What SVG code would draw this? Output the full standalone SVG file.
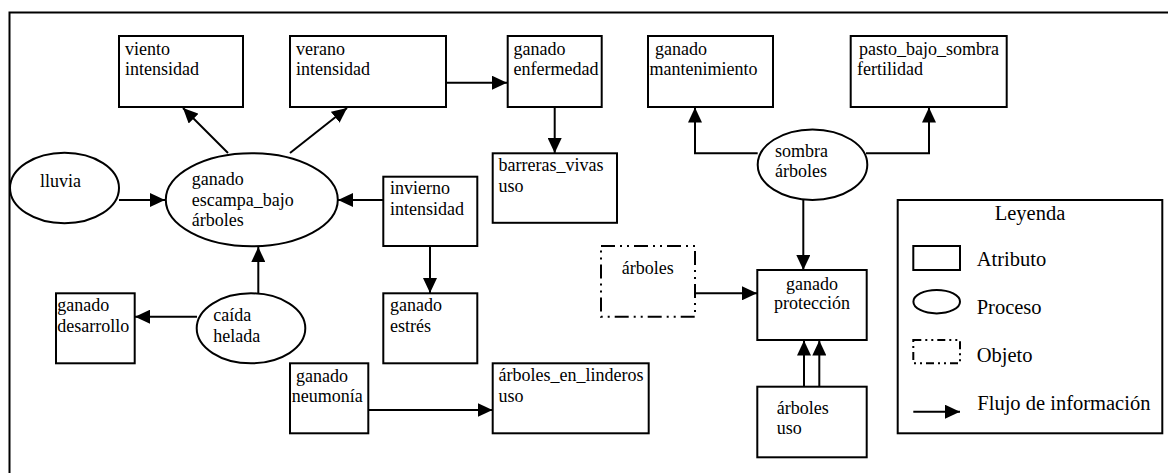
<svg xmlns="http://www.w3.org/2000/svg" width="1168" height="473" viewBox="0 0 1168 473">
<defs>
<marker id="ah" markerWidth="15" markerHeight="14" refX="15" refY="7" orient="auto" markerUnits="userSpaceOnUse">
<path d="M0,0 L15,7 L0,14 z" fill="#000"/>
</marker>
<style>
.b{fill:#fff;stroke:#000;stroke-width:2}
.o{fill:#fff;stroke:#000;stroke-width:2;stroke-dasharray:14 5 2 5 2 5}
.c{fill:none;stroke:#000;stroke-width:2;marker-end:url(#ah)}
text{font-family:"Liberation Serif",serif;font-size:18px;fill:#000}
.lg{font-size:20.5px}
.m{text-anchor:middle}
</style>
</defs>
<rect x="0" y="0" width="1168" height="473" fill="#fff"/>
<rect x="9.5" y="12.5" width="1170" height="470" fill="none" stroke="#000" stroke-width="2"/>

<g id="connectors">
<line class="c" x1="228" y1="153" x2="183" y2="108"/>
<line class="c" x1="290" y1="153" x2="347" y2="108"/>
<line class="c" x1="119" y1="200" x2="165" y2="200"/>
<line class="c" x1="383" y1="200" x2="338" y2="200"/>
<line class="c" x1="258.3" y1="293" x2="258.3" y2="247"/>
<line class="c" x1="197" y1="316.7" x2="135" y2="316.7"/>
<line class="c" x1="446" y1="82.7" x2="507" y2="82.7"/>
<line class="c" x1="554.7" y1="107" x2="554.7" y2="153"/>
<line class="c" x1="430" y1="246" x2="430" y2="293"/>
<line class="c" x1="368.3" y1="410" x2="492.5" y2="410"/>
<polyline class="c" points="757.7,153.3 695,153.3 695,107.5"/>
<polyline class="c" points="866,153.3 929,153.3 929,107.5"/>
<line class="c" x1="803.3" y1="200" x2="803.3" y2="270"/>
<line class="c" x1="695" y1="293.3" x2="757" y2="293.3"/>
<line class="c" x1="804" y1="386.7" x2="804" y2="340.5"/>
<line class="c" x1="819.3" y1="386.7" x2="819.3" y2="340.5"/>
</g>

<g id="viento"><rect class="b" x="119" y="36" width="124" height="71"/><text x="125" y="54.5">viento</text><text x="125" y="75">intensidad</text></g>
<g id="verano"><rect class="b" x="290" y="36" width="156" height="71"/><text x="296" y="54.5">verano</text><text x="296" y="75">intensidad</text></g>
<g id="enfermedad"><rect class="b" x="507.7" y="36" width="94" height="71"/><text x="513.5" y="54.5">ganado</text><text x="513.5" y="75">enfermedad</text></g>
<g id="mantenimiento"><rect class="b" x="648" y="36" width="125" height="71"/><text x="655" y="54.5">ganado</text><text x="649.5" y="75">mantenimiento</text></g>
<g id="pasto"><rect class="b" x="850.7" y="36" width="156" height="71"/><text x="859" y="54.5">pasto_bajo_sombra</text><text x="857" y="75">fertilidad</text></g>
<g id="barreras"><rect class="b" x="492.7" y="153.3" width="124.3" height="69.5"/><text x="498.5" y="170.5">barreras_vivas</text><text x="498.5" y="191.5">uso</text></g>
<g id="invierno"><rect class="b" x="383.3" y="176.7" width="94" height="69.3"/><text x="390" y="193.5">invierno</text><text x="390" y="214.5">intensidad</text></g>
<g id="estres"><rect class="b" x="383.3" y="293.3" width="94" height="70"/><text x="390" y="311">ganado</text><text x="390" y="331.7">estrés</text></g>
<g id="linderos"><rect class="b" x="492.7" y="363.3" width="156" height="70"/><text x="498.5" y="381">árboles_en_linderos</text><text x="498.5" y="401.7">uso</text></g>
<g id="neumonia"><rect class="b" x="290" y="363.3" width="78.3" height="70"/><text x="296" y="381.7">ganado</text><text x="291.7" y="401.7">neumonía</text></g>
<g id="desarrollo"><rect class="b" x="56" y="293.3" width="78.7" height="70"/><text x="57.3" y="311">ganado</text><text x="57.3" y="331.7">desarrollo</text></g>
<g id="caida"><ellipse class="b" cx="251" cy="328.3" rx="54.3" ry="35"/><text x="213.3" y="321">caída</text><text x="213.3" y="341.7">helada</text></g>
<g id="escampa"><ellipse class="b" cx="251.8" cy="199.7" rx="86" ry="46.5"/><text x="191.7" y="185">ganado</text><text x="191.7" y="205.5">escampa_bajo</text><text x="191.7" y="226">árboles</text></g>
<g id="lluvia"><ellipse class="b" cx="64.5" cy="188" rx="54.5" ry="35.3"/><text x="40" y="186.7">lluvia</text></g>
<g id="sombra"><ellipse class="b" cx="812.5" cy="164.7" rx="54.8" ry="35.3"/><text x="775" y="156.7">sombra</text><text x="775" y="176.7">árboles</text></g>
<g id="arboles_obj"><rect class="o" x="601" y="246" width="94" height="70.7"/><text x="621.7" y="274">árboles</text></g>
<g id="proteccion"><rect class="b" x="757.3" y="270" width="109.4" height="70"/><text class="m" x="812" y="290">ganado</text><text class="m" x="812" y="309">protección</text></g>
<g id="arboles_uso"><rect class="b" x="757.3" y="386.7" width="109.4" height="70.6"/><text x="776.7" y="414.3">árboles</text><text x="776.7" y="434">uso</text></g>

<g id="leyenda">
<rect class="b" x="897.7" y="200" width="264.6" height="233.3"/>
<text class="lg m" x="1030" y="220">Leyenda</text>
<rect class="b" x="913.3" y="246" width="46.7" height="24"/>
<text class="lg" x="976.7" y="266">Atributo</text>
<ellipse class="b" cx="936.7" cy="301.7" rx="23.3" ry="11.7"/>
<text class="lg" x="976.7" y="314">Proceso</text>
<rect class="o" x="913.3" y="340" width="46.7" height="23.3" style="stroke-dasharray:8 4 2 4 2 4"/>
<text class="lg" x="976.7" y="361.7">Objeto</text>
<line class="c" x1="913.3" y1="411.7" x2="960" y2="411.7"/>
<text class="lg" x="977.3" y="410">Flujo de información</text>
</g>
</svg>
